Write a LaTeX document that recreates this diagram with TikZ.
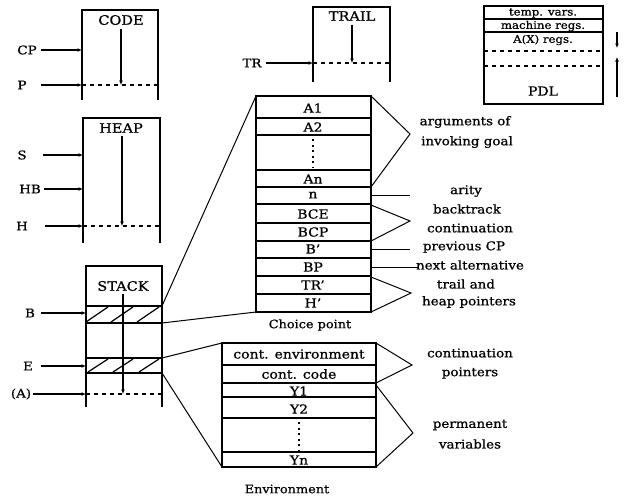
\documentclass[tikz,border=0pt]{standalone}
\usepackage{fontspec}
\setmainfont{DejaVu Serif}[FakeStretch=1.12,FakeBold=0.8]
\usetikzlibrary{arrows.meta}
\begin{document}
\begin{tikzpicture}[x=1pt,y=-1pt,
  wall/.style={line width=1.2pt},
  cut/.style={line width=1.2pt, dash pattern=on 4pt off 4pt},
  ptr/.style={line width=1.1pt, -{Latex[length=4.5pt,width=4pt]}},
  link/.style={line width=1pt},
  reg/.style={font=\fontsize{12}{13}\selectfont, inner sep=0pt},
  head/.style={font=\fontsize{13}{14}\selectfont, inner sep=0pt},
  cell/.style={font=\fontsize{12.5}{13}\selectfont, inner sep=0pt},
  small/.style={font=\fontsize{10.5}{11}\selectfont, inner sep=0pt},
  note/.style={font=\fontsize{12}{13}\selectfont, inner sep=0pt},
  captxt/.style={font=\fontsize{11.5}{12}\selectfont, inner sep=0pt},
  vdots/.style={line width=1.8pt, dash pattern=on 2pt off 3.5pt},
]
\useasboundingbox (0,0) rectangle (625,499);

% ---------------- CODE area
\draw[wall] (82,100) -- (82,10) -- (158,10) -- (158,100);
\draw[cut] (82,85) -- (158,85);
\node[head] (code) at (121,20) {CODE};
\coordinate (codeP) at (121,85);
\draw[ptr, shorten <=4pt] (code.south) -- (codeP);
\node[reg] (CP) at (27,50) {CP};
\coordinate (cpE) at (82,50);
\draw[ptr, shorten <=4pt] (CP) -- (cpE);
\node[reg] (P) at (22,85) {P};
\coordinate (pE) at (82,85);
\draw[ptr, shorten <=14pt] (P) -- (pE);

% ---------------- HEAP area
\draw[wall] (83,243) -- (83,118) -- (160,118) -- (160,243);
\draw[cut] (83,226) -- (160,226);
\node[head] (heap) at (121,128) {HEAP};
\coordinate (heapH) at (122,226);
\draw[ptr, shorten <=3pt] (heap.south -| heapH) -- (heapH);
\node[reg] (S) at (22,155) {S};
\coordinate (sE) at (83,155);
\draw[ptr, shorten <=16pt] (S) -- (sE);
\node[reg] (HB) at (30,189) {HB};
\coordinate (hbE) at (83,189);
\draw[ptr, shorten <=3pt] (HB) -- (hbE);
\node[reg] (H) at (22,226) {H};
\coordinate (hE) at (83,226);
\draw[ptr, shorten <=17pt] (H) -- (hE);

% ---------------- STACK area
\draw[wall] (86,407) -- (86,266) -- (162,266) -- (162,407);
\draw[wall] (86,306) -- (162,306) (86,323) -- (162,323);
\draw[wall] (86,358) -- (162,358) (86,373) -- (162,373);
\foreach \x in {0,25,51} {
  \draw[wall] (86+\x,322) -- (108+\x,307);
  \draw[wall] (88+\x,372) -- (108+\x,359);
}
\draw[cut] (86,394) -- (162,394);
\node[head] (stack) at (123,286) {STACK};
\coordinate (stA) at (123,394);
\draw[ptr, shorten <=3pt] (stack.south) -- (stA);
\node[reg] (B) at (30,313) {B};
\coordinate (bE) at (86,313);
\draw[ptr, shorten <=6pt] (B) -- (bE);
\node[reg] (E) at (28,366) {E};
\coordinate (eE) at (86,366);
\draw[ptr, shorten <=8pt] (E) -- (eE);
\node[reg] (A) at (21,394) {(A)};
\coordinate (aE) at (86,394);
\draw[ptr, shorten <=2pt] (A) -- (aE);

% ---------------- TRAIL area
\draw[wall] (313,82) -- (313,7) -- (390,7) -- (390,82);
\draw[cut] (313,63) -- (390,63);
\node[head] (trail) at (352,16) {TRAIL};
\coordinate (trT) at (352,63);
\draw[ptr, shorten <=4pt] (trail.south) -- (trT);
\node[reg] (TR) at (252,63) {TR};
\coordinate (trE) at (313,63);
\draw[ptr, shorten <=4pt] (TR) -- (trE);

% ---------------- PDL / registers area
\draw[wall] (484,6) rectangle (603,104);
\draw[wall] (484,19) -- (603,19) (484,32) -- (603,32);
\draw[cut] (484,51) -- (603,51) (484,66) -- (603,66);
\node[small] (tv) at (543,13) {temp. vars.};
\node[small] (mr) at (543,26) {machine regs.};
\node[small] (ax) at (543,40) {A(X) regs.};
\node[cell] (pdl) at (543,91) {PDL};
\coordinate (dnA) at (617,32);
\coordinate (dnB) at (617,48);
\draw[ptr] (dnA) -- (dnB);
\coordinate (upA) at (617,97);
\coordinate (upB) at (617,57);
\draw[ptr] (upA) -- (upB);

% ---------------- Choice point frame
\draw[wall] (256,96) rectangle (371,312);
\foreach \y in {118,135,170,187,204,223,241,258,276,294}
  \draw[wall] (256,\y) -- (371,\y);
\node[cell] (a1) at (313,108) {A1};
\node[cell] (a2) at (313,127) {A2};
\node[cell] (an) at (313,179) {An};
\node[cell] (nn) at (313,195) {n};
\node[cell] (bce) at (313,214) {BCE};
\node[cell] (bcp) at (313,232) {BCP};
\node[cell] (bq) at (313,249) {B'};
\node[cell] (bp) at (313,267) {BP};
\node[cell] (trq) at (313,285) {TR'};
\node[cell] (hq) at (313,303) {H'};
\draw[vdots] (313,139) -- (313,168);
\node[captxt] (cpcap) at (310,325) {Choice point};

% links stack -> choice point
\draw[link] (162,306) -- (256,96);
\draw[link] (162,323) -- (256,312);

% right side braces of the choice point
\draw[link] (371,96) -- (410,134) -- (371,187);
\draw[link] (371,195) -- (410,195);
\draw[link] (371,205) -- (410,221) -- (371,241);
\draw[link] (371,249) -- (410,249);
\draw[link] (371,267) -- (418,267);
\draw[link] (371,277) -- (411,293) -- (371,312);

\node[note] (l1) at (465,122) {arguments of};
\node[note] (l2) at (467,142) {invoking goal};
\node[note] (l3) at (466,191) {arity};
\node[note] (l4) at (467,209) {backtrack};
\node[note] (l5) at (470,228) {continuation};
\node[note] (l6) at (464,247) {previous CP};
\node[note] (l7) at (470,265) {next alternative};
\node[note] (l8) at (466,284) {trail and};
\node[note] (l9) at (469,302) {heap pointers};

% ---------------- Environment frame
\draw[wall] (222,343) rectangle (376,467);
\foreach \y in {365,383,397,418,452}
  \draw[wall] (222,\y) -- (376,\y);
\node[cell] (ce) at (299,354) {cont. environment};
\node[cell] (cc) at (299,374) {cont. code};
\node[cell] (y1) at (299,391) {Y1};
\node[cell] (y2) at (299,409) {Y2};
\node[cell] (yn) at (299,460) {Yn};
\draw[vdots] (299,422) -- (299,450);
\node[captxt] (envcap) at (287,489) {Environment};

% links stack -> environment
\draw[link] (162,358) -- (222,343);
\draw[link] (162,373) -- (222,467);

% right side braces of the environment
\draw[link] (376,343) -- (412,365) -- (376,383);
\draw[link] (376,385) -- (413,433) -- (376,467);
\node[note] (l10) at (470,353) {continuation};
\node[note] (l11) at (470,373) {pointers};
\node[note] (l12) at (470,425) {permanent};
\node[note] (l13) at (470,444) {variables};
\end{tikzpicture}
\end{document}
